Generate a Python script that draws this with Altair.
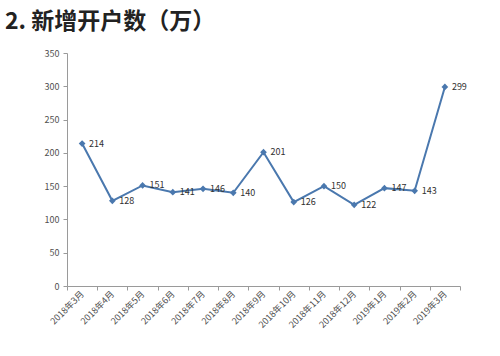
import altair as alt
import pandas as pd

months = ["2018年3月", "2018年4月", "2018年5月", "2018年6月", "2018年7月", "2018年8月",
          "2018年9月", "2018年10月", "2018年11月", "2018年12月", "2019年1月", "2019年2月", "2019年3月"]
values = [214, 128, 151, 141, 146, 140, 201, 126, 150, 122, 147, 143, 299]
y_ticks = [0, 50, 100, 150, 200, 250, 300, 350]

df = pd.DataFrame({"month": months, "value": values})

FONT = "Noto Sans CJK SC"
LINE = "#4a78ae"

x = alt.X("month:N", sort=months, title=None,
          scale=alt.Scale(paddingInner=0, paddingOuter=0),
          axis=alt.Axis(labelAngle=-45, labelAlign="right", labelBaseline="middle",
                        labelFontSize=9, labelColor="#505050", labelFont=FONT,
                        domainColor="#9a9a9a", tickColor="#9a9a9a", tickSize=4,
                        tickBand="extent", labelPadding=2, grid=False))
y = alt.Y("value:Q", title=None,
          scale=alt.Scale(domain=[0, 350], nice=False),
          axis=alt.Axis(values=y_ticks, labelFontSize=9, labelColor="#505050", labelFont=FONT,
                        domainColor="#9a9a9a", tickColor="#9a9a9a", tickSize=4,
                        labelPadding=4, grid=False))

base = alt.Chart(df).encode(x=x, y=y)

line = base.mark_line(color=LINE, strokeWidth=2)
pts = base.mark_point(shape="diamond", filled=True, color=LINE, size=45, opacity=1)
labels = base.mark_text(align="left", baseline="middle", dx=7, fontSize=9,
                        color="#303030", font=FONT).encode(text="value:Q")

chart = (line + pts + labels).properties(
    width=393, height=233,
    padding={"left": 67, "top": 53, "right": 40, "bottom": 70},
    autosize=alt.AutoSizeParams(type="none"),
    title=alt.TitleParams("2. 新增开户数（万）", anchor="start", frame="group",
                          font=FONT, fontSize=23, fontWeight="bold", color="#222222",
                          dx=-62, offset=15),
    background="white",
).configure_view(stroke=None)

chart.save("out.html", embed_options={"renderer": "svg", "actions": False})
